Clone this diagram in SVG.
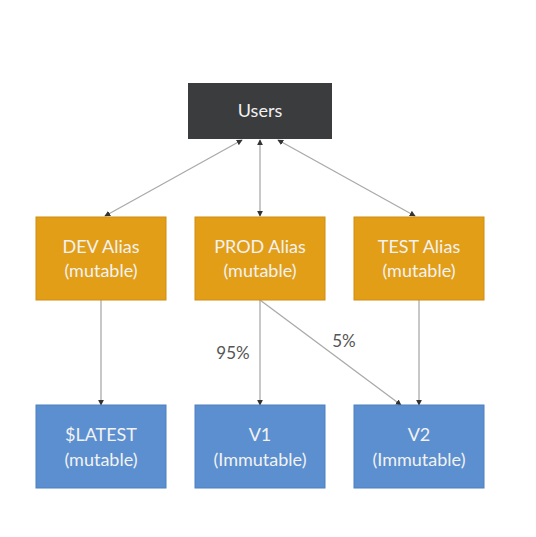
<svg xmlns="http://www.w3.org/2000/svg" width="536" height="537" viewBox="0 0 536 537">
<defs>
<style>
.t{font-family:Lato,"Open Sans","Liberation Sans",sans-serif;font-size:18px;fill:#f2f2f2;text-anchor:middle}
.lbl{font-family:Lato,"Open Sans","Liberation Sans",sans-serif;font-size:17px;fill:#555;text-anchor:middle}
.c{stroke:#aaaaaa;stroke-width:1.3;fill:none}
.orange{fill:#e39e17;stroke:#d08c10;stroke-width:1}
.blue{fill:#5b8fd0;stroke:#4d80c0;stroke-width:1}
</style>
<marker id="ah" viewBox="0 0 8 8" refX="7" refY="4" markerWidth="6" markerHeight="6" orient="auto-start-reverse" markerUnits="userSpaceOnUse">
<path d="M0,0 L8,4 L0,8 z" fill="#333"/>
</marker>
</defs>
<rect width="536" height="537" fill="#ffffff"/>
<g id="connectors">
<line class="c" x1="242" y1="140" x2="105" y2="216" marker-start="url(#ah)" marker-end="url(#ah)"/>
<line class="c" x1="260" y1="140" x2="260" y2="216" marker-start="url(#ah)" marker-end="url(#ah)"/>
<line class="c" x1="278" y1="140" x2="415" y2="216" marker-start="url(#ah)" marker-end="url(#ah)"/>
<line class="c" x1="101" y1="300" x2="101" y2="405" marker-end="url(#ah)"/>
<line class="c" x1="260" y1="300" x2="260" y2="405" marker-end="url(#ah)"/>
<line class="c" x1="260" y1="300" x2="401" y2="405" marker-end="url(#ah)"/>
<line class="c" x1="419" y1="300" x2="419" y2="405" marker-end="url(#ah)"/>
<text class="lbl" x="233" y="359">95%</text>
<text class="lbl" x="344" y="347">5%</text>
</g>
<g id="users">
<rect x="188" y="83" width="144" height="56" fill="#3b3c3e"/>
<text class="t" x="260" y="117">Users</text>
</g>
<g id="dev">
<rect class="orange" x="36" y="217" width="130" height="83"/>
<text class="t" x="101" y="253">DEV Alias</text>
<text class="t" x="101" y="277">(mutable)</text>
</g>
<g id="prod">
<rect class="orange" x="195" y="217" width="130" height="83"/>
<text class="t" x="260" y="253">PROD Alias</text>
<text class="t" x="260" y="277">(mutable)</text>
</g>
<g id="test">
<rect class="orange" x="354" y="217" width="130" height="83"/>
<text class="t" x="419" y="253">TEST Alias</text>
<text class="t" x="419" y="277">(mutable)</text>
</g>
<g id="latest">
<rect class="blue" x="36" y="405" width="130" height="83"/>
<text class="t" x="101" y="441">$LATEST</text>
<text class="t" x="101" y="466">(mutable)</text>
</g>
<g id="v1">
<rect class="blue" x="195" y="405" width="130" height="83"/>
<text class="t" x="260" y="441">V1</text>
<text class="t" x="260" y="466">(Immutable)</text>
</g>
<g id="v2">
<rect class="blue" x="354" y="405" width="130" height="83"/>
<text class="t" x="419" y="441">V2</text>
<text class="t" x="419" y="466">(Immutable)</text>
</g>
</svg>
